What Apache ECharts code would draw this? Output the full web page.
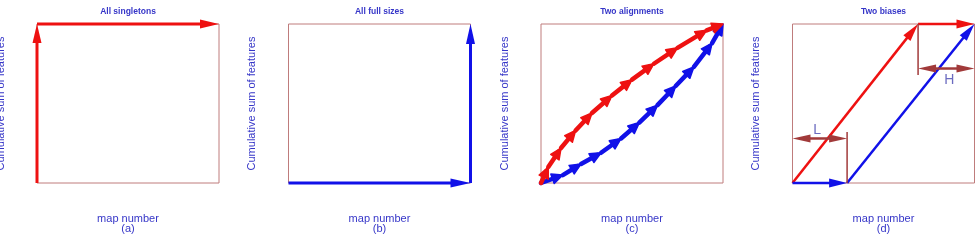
<!DOCTYPE html>
<html>
<head>
<meta charset="utf-8">
<script src="https://cdn.jsdelivr.net/npm/echarts@6/dist/echarts.min.js"></script>
<style>
html,body{margin:0;padding:0;background:#fff;}
#chart{width:979px;height:240px;}
</style>
</head>
<body>
<div id="chart"></div>
<script>
// ---- data ----
const panelTitles = ['All singletons', 'All full sizes', 'Two alignments', 'Two biases'];
const panelTags = ['(a)', '(b)', '(c)', '(d)'];
const xAxisTitle = 'map number';
const yAxisTitle = 'Cumulative sum of features';

// (a) all singletons: red path
const singletonX = [0, 0, 1];
const singletonY = [0, 1, 1];
// (b) all full sizes: blue path
const fullSizeX = [0, 1, 1];
const fullSizeY = [0, 0, 1];
// (c) two alignments
const alignRedX = [0, 0.04, 0.11, 0.19, 0.28, 0.39, 0.50, 0.62, 0.75, 0.91, 1.0];
const alignRedY = [0, 0.10, 0.22, 0.33, 0.44, 0.55, 0.65, 0.75, 0.85, 0.96, 1.0];
const alignBlueX = [0, 0.12, 0.22, 0.33, 0.44, 0.54, 0.64, 0.74, 0.84, 0.94, 1.0];
const alignBlueY = [0, 0.05, 0.12, 0.19, 0.28, 0.38, 0.49, 0.61, 0.73, 0.88, 1.0];
// (d) two biases
const biasRedX = [0, 0.69, 1.0];
const biasRedY = [0, 1.0, 1.0];
const biasBlueX = [0, 0.30, 1.0];
const biasBlueY = [0, 0, 1.0];
const lowSpanX = [0, 0.30];
const lowSpanY = 0.28;
const lowGuideY = [0, 0.32];
const highSpanX = [0.69, 1.0];
const highSpanY = 0.72;
const highGuideY = [1.0, 0.68];
const biasLabels = ['L', 'H'];
const biasLabelX = [0.135, 0.862];
const biasLabelY = [0.33, 0.645];

// ---- styles ----
const RED = '#ee1111', BLUE = '#1111e8', DARK = '#a13a3a', TEXT = '#3636c8', BOX = '#bf7c7c';
const FONT = 'Liberation Sans, Arial, sans-serif';
const gridLefts = [37, 288.5, 541, 792.5];
const GW = 182, GT = 24, GH = 159;

function segs(xs, ys) {
  const out = [];
  for (let i = 0; i + 1 < xs.length; i++) out.push([xs[i], ys[i], xs[i + 1], ys[i + 1]]);
  return out;
}
function head(tip, ux, uy, len, wid) {
  const bx = tip[0] - ux * len, by = tip[1] - uy * len;
  const nx = -uy * wid / 2, ny = ux * wid / 2;
  return {type: 'polygon', shape: {points: [[tip[0], tip[1]], [bx + nx, by + ny], [bx - nx, by - ny]]}};
}
// opts: color, width, headLen, headWid, startHead, endHead, cut
function arrowSeries(idx, data, o) {
  const cut = o.cut == null ? 0.7 : o.cut;
  return {
    type: 'custom', coordinateSystem: 'cartesian2d', xAxisIndex: idx, yAxisIndex: idx,
    data: data, encode: {x: [0, 2], y: [1, 3]}, silent: true, animation: false, clip: false, z: o.z || 3,
    renderItem: function (params, api) {
      const p1 = api.coord([api.value(0), api.value(1)]);
      const p2 = api.coord([api.value(2), api.value(3)]);
      const dx = p2[0] - p1[0], dy = p2[1] - p1[1];
      const d = Math.sqrt(dx * dx + dy * dy) || 1;
      const ux = dx / d, uy = dy / d;
      const children = [];
      const s = o.startHead ? o.headLen * cut : 0;
      const e = o.endHead ? o.headLen * cut : 0;
      children.push({type: 'line', shape: {x1: p1[0] + ux * s, y1: p1[1] + uy * s, x2: p2[0] - ux * e, y2: p2[1] - uy * e},
        style: {stroke: o.color, lineWidth: o.width, lineCap: o.cap || 'butt'}});
      const hs = {fill: o.color, stroke: o.color, lineWidth: o.headStroke || 0, lineJoin: 'round'};
      if (o.endHead) { const h = head(p2, ux, uy, o.headLen, o.headWid); h.style = hs; children.push(h); }
      if (o.startHead) { const h = head(p1, -ux, -uy, o.headLen, o.headWid); h.style = hs; children.push(h); }
      return {type: 'group', children: children};
    }
  };
}

const grids = [], xAxes = [], yAxes = [], titles = [];
for (let i = 0; i < 4; i++) {
  grids.push({left: gridLefts[i], top: GT, width: GW, height: GH, show: true, outerBoundsMode: 'none', containLabel: false,
    borderColor: BOX, borderWidth: 1, backgroundColor: 'transparent'});
  xAxes.push({type: 'value', gridIndex: i, min: 0, max: 1,
    axisLine: {show: false}, axisTick: {show: false}, axisLabel: {show: false}, splitLine: {show: false},
    name: xAxisTitle + '\n' + panelTags[i], nameLocation: 'middle', nameGap: 31,
    nameTextStyle: {color: TEXT, fontSize: 11, lineHeight: 10, fontFamily: FONT}});
  yAxes.push({type: 'value', gridIndex: i, min: 0, max: 1,
    axisLine: {show: false}, axisTick: {show: false}, axisLabel: {show: false}, splitLine: {show: false},
    name: yAxisTitle, nameLocation: 'middle', nameGap: 31,
    nameTextStyle: {color: TEXT, fontSize: 11, fontFamily: FONT}});
  titles.push({text: panelTitles[i], left: gridLefts[i] + GW / 2, top: 7, textAlign: 'center', padding: 0,
    textStyle: {color: TEXT, fontSize: 8.5, fontWeight: 'bold', fontFamily: FONT}});
}

const series = [
  arrowSeries(0, segs(singletonX, singletonY), {color: RED, width: 3, headLen: 19, headWid: 9, endHead: true}),
  arrowSeries(1, segs(fullSizeX, fullSizeY), {color: BLUE, width: 3, headLen: 20, headWid: 9, endHead: true}),
  arrowSeries(2, segs(alignBlueX, alignBlueY), {color: BLUE, width: 4.5, headLen: 11, headWid: 10, endHead: true, cut: 0.4, cap: 'round', headStroke: 1.5}),
  arrowSeries(2, segs(alignRedX, alignRedY), {color: RED, width: 4.5, headLen: 11, headWid: 10, endHead: true, cut: 0.4, cap: 'round', headStroke: 1.5, z: 4}),
  arrowSeries(3, segs(biasRedX, biasRedY), {color: RED, width: 2.5, headLen: 18, headWid: 9, endHead: true}),
  arrowSeries(3, segs(biasBlueX, biasBlueY), {color: BLUE, width: 2.5, headLen: 18, headWid: 9, endHead: true}),
  arrowSeries(3, [[lowSpanX[1], lowGuideY[0], lowSpanX[1], lowGuideY[1]],
                  [highSpanX[0], highGuideY[0], highSpanX[0], highGuideY[1]]],
              {color: DARK, width: 1.5, headLen: 0, headWid: 0}),
  arrowSeries(3, [[lowSpanX[0], lowSpanY, lowSpanX[1], lowSpanY],
                  [highSpanX[0], highSpanY, highSpanX[1], highSpanY]],
              {color: DARK, width: 2.5, headLen: 18, headWid: 8, startHead: true, endHead: true, z: 5}),
  {type: 'scatter', xAxisIndex: 3, yAxisIndex: 3, symbolSize: 1, silent: true, animation: false,
   itemStyle: {color: 'transparent'},
   data: biasLabels.map((t, k) => ({value: [biasLabelX[k], biasLabelY[k]], name: t})),
   label: {show: true, position: 'inside', formatter: p => p.name, color: '#4646b0', fontSize: 14, fontFamily: FONT}, z: 6}
];

const chart = echarts.init(document.getElementById('chart'), null, {renderer: 'canvas'});
chart.setOption({animation: false, title: titles, grid: grids, xAxis: xAxes, yAxis: yAxes, series: series});
</script>
</body>
</html>
